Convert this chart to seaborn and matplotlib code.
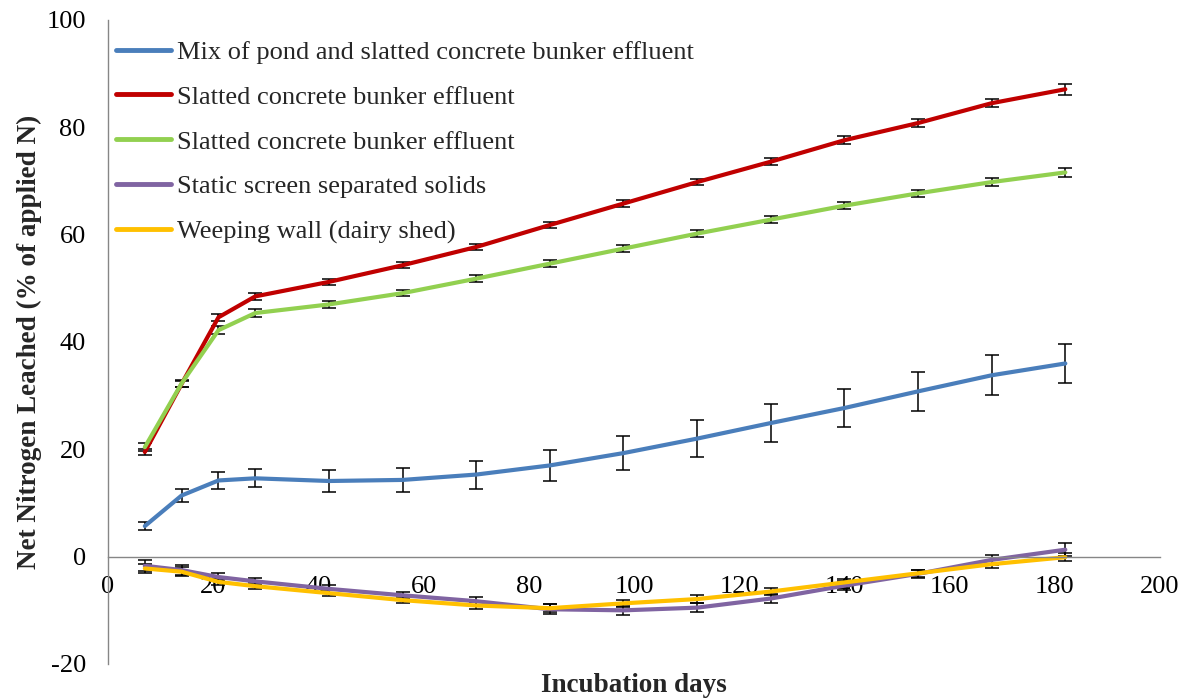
import numpy as np
import pandas as pd
import matplotlib
matplotlib.use("Agg")
import matplotlib.pyplot as plt
import seaborn as sns

days = [7, 14, 21, 28, 42, 56, 70, 84, 98, 112, 126, 140, 154, 168, 182]

series_names = [
    "Mix of pond and slatted concrete bunker effluent",
    "Slatted concrete bunker effluent",
    "Slatted concrete bunker effluent ",
    "Static screen separated solids",
    "Weeping wall (dairy shed)",
]

mix_pond = [5.7, 11.4, 14.2, 14.6, 14.1, 14.3, 15.3, 17.0, 19.3, 22.0, 24.9, 27.7, 30.8, 33.8, 36.0]
mix_pond_err = [0.8, 1.2, 1.6, 1.7, 2.0, 2.2, 2.6, 2.9, 3.1, 3.4, 3.5, 3.6, 3.7, 3.7, 3.7]

slatted_a = [19.5, 32.2, 44.6, 48.5, 51.2, 54.3, 57.7, 61.8, 65.8, 69.8, 73.6, 77.6, 80.8, 84.5, 87.1]
slatted_a_err = [0.6, 0.6, 0.7, 0.6, 0.6, 0.6, 0.6, 0.6, 0.6, 0.6, 0.6, 0.7, 0.7, 0.8, 1.0]

slatted_b = [20.4, 32.3, 42.2, 45.4, 47.0, 49.1, 51.8, 54.6, 57.4, 60.2, 62.8, 65.4, 67.7, 69.8, 71.6]
slatted_b_err = [0.8, 0.6, 0.7, 0.7, 0.6, 0.6, 0.6, 0.6, 0.6, 0.6, 0.6, 0.6, 0.6, 0.7, 0.8]

static_screen = [-1.7, -2.5, -3.8, -4.6, -6.0, -7.2, -8.3, -9.8, -10.0, -9.5, -7.8, -5.4, -3.2, -0.6, 1.3]
static_screen_err = [1.0, 1.0, 0.8, 0.6, 0.7, 0.7, 0.7, 0.9, 0.9, 0.9, 0.9, 0.8, 0.8, 0.9, 1.2]

weeping_wall = [-2.2, -2.8, -4.7, -5.5, -6.8, -8.1, -9.1, -9.6, -8.7, -7.9, -6.5, -4.8, -3.1, -1.4, -0.1]
weeping_wall_err = [0.8, 0.8, 0.6, 0.6, 0.6, 0.6, 0.6, 0.7, 0.7, 0.7, 0.7, 0.7, 0.6, 0.8, 0.8]

values = [mix_pond, slatted_a, slatted_b, static_screen, weeping_wall]
errors = [mix_pond_err, slatted_a_err, slatted_b_err, static_screen_err, weeping_wall_err]
colors = ["#4A7EBB", "#C00000", "#92D050", "#8064A2", "#FFC000"]

x_ticks = [0, 20, 40, 60, 80, 100, 120, 140, 160, 180, 200]
y_ticks = [-20, 0, 20, 40, 60, 80, 100]

df = pd.concat(
    [pd.DataFrame({"day": days, "value": v, "err": e, "series": n})
     for n, v, e in zip(series_names, values, errors)],
    ignore_index=True,
)

sns.set_style("white")
plt.rcParams["font.family"] = ["Liberation Serif", "DejaVu Serif"]

fig = plt.figure(figsize=(11.86, 6.98), dpi=100)
ax = fig.add_axes([108 / 1186, 1 - 664 / 698, (1160 - 108) / 1186, (664 - 20) / 698])

palette = dict(zip(series_names, colors))
sns.lineplot(data=df, x="day", y="value", hue="series", palette=palette,
             hue_order=series_names, linewidth=3.0, ax=ax, legend=True,
             errorbar=None, sort=False)

for n in series_names:
    sub = df[df["series"] == n]
    ax.errorbar(sub["day"], sub["value"], yerr=sub["err"], fmt="none",
                ecolor="black", elinewidth=1.1, capsize=5, capthick=1.1, zorder=1.5)

ax.set_xlim(0, 200)
ax.set_ylim(-20, 100)
ax.set_xticks(x_ticks)
ax.set_yticks(y_ticks)
ax.set_xticklabels([str(t) for t in x_ticks])
ax.set_yticklabels([str(t) for t in y_ticks])

for s in ["top", "right"]:
    ax.spines[s].set_visible(False)
ax.spines["bottom"].set_position(("data", 0))
for s in ["left", "bottom"]:
    ax.spines[s].set_color("#868686")
    ax.spines[s].set_linewidth(1.0)

ax.tick_params(axis="both", which="both", direction="out", length=7, width=1.0,
               color="#868686", labelsize=19, labelcolor="black")
ax.tick_params(axis="x", pad=7)
ax.tick_params(axis="y", pad=9)

ax.set_xlabel("Incubation days", fontsize=19.5, fontweight="bold")
ax.set_ylabel("Net Nitrogen Leached (% of applied N)", fontsize=19.5, fontweight="bold")
ax.xaxis.set_label_coords(0.5, -0.014)
ax.yaxis.set_label_coords(-0.063, 0.5)

handles, labels = ax.get_legend_handles_labels()
leg = ax.legend(handles, [l.strip() for l in labels], loc="upper left",
                bbox_to_anchor=(-0.007, 0.993), frameon=False, fontsize=19,
                handlelength=2.05, handletextpad=0.23, labelspacing=0.81,
                borderaxespad=0.2)
for line in leg.get_lines():
    line.set_linewidth(3.5)

fig.savefig("out.png", dpi=100, facecolor="white")
